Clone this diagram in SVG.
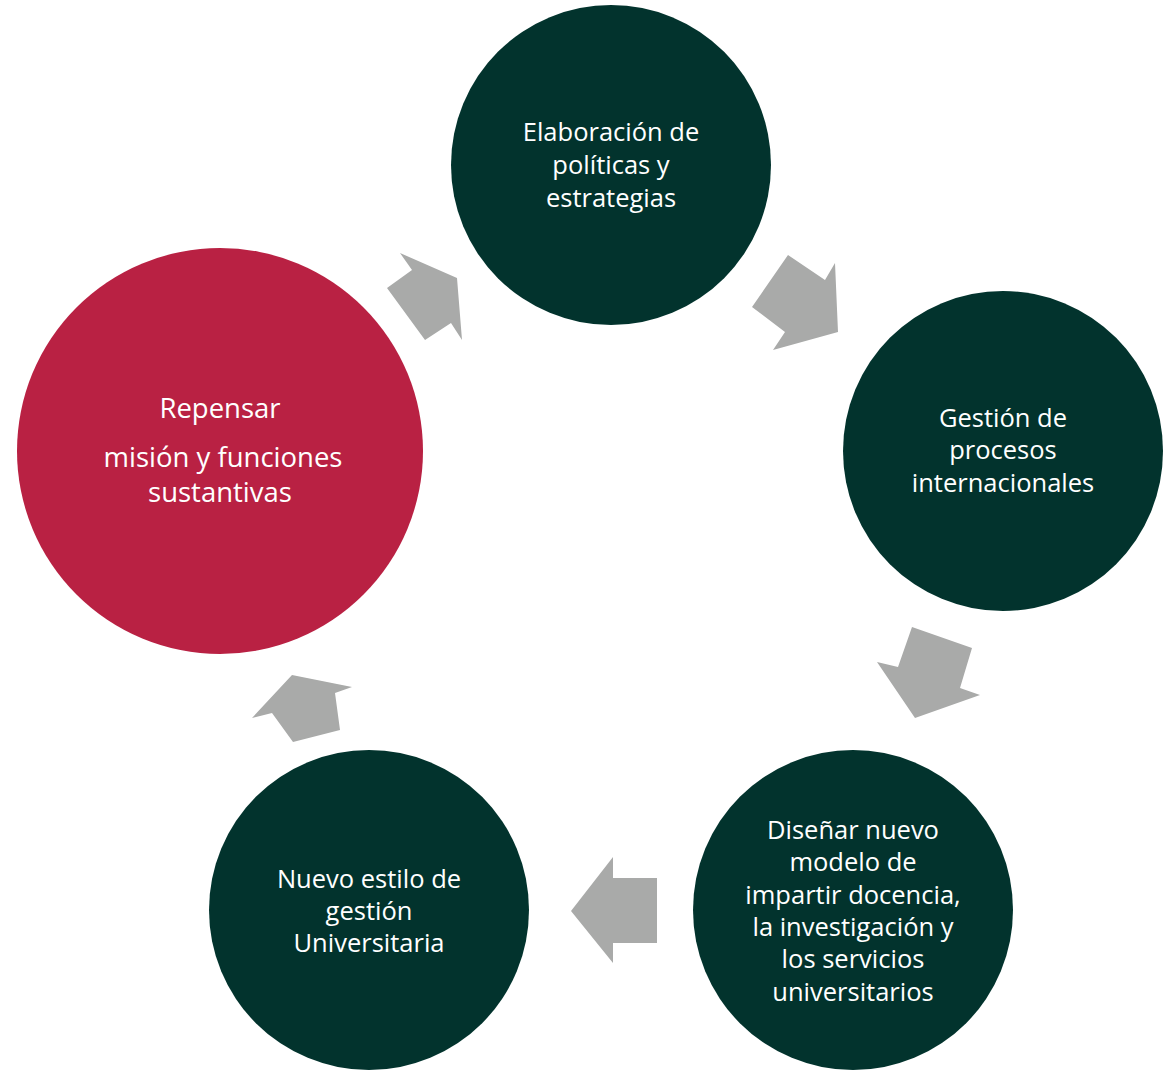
<svg xmlns="http://www.w3.org/2000/svg" width="1175" height="1070" viewBox="0 0 1175 1070">
<style>
.dk{fill:#02332D}
.rd{fill:#B92143}
.ar{fill:#A9AAA9}
text{font-family:"Open Sans","Liberation Sans",sans-serif;font-size:25.5px;fill:#ffffff;text-anchor:middle}
.big{font-size:27.5px}
</style>
<rect width="1175" height="1070" fill="#ffffff"/>
<g id="connectors">
<polygon class="ar" points="400,253 412,270 387,288 425,340 451,323 462,340 457,278"/>
<polygon class="ar" points="788,255 825,280 835,263 838,332 773,350 785,332 752,307"/>
<polygon class="ar" points="912,627 972,648 960,688 980,695 915,718 877,662 898,667"/>
<polygon class="ar" points="571,911 613,857 613,878 657,878 657,943 613,943 613,963"/>
<polygon class="ar" points="292,675 352,687 335,693 340,730 293,742 272,713 252,718"/>
</g>
<g id="node-elaboracion">
<circle class="dk" cx="611" cy="165" r="160"/>
<text x="611" y="141">Elaboración de</text>
<text x="611" y="174">políticas y</text>
<text x="611" y="207">estrategias</text>
</g>
<g id="node-gestion">
<circle class="dk" cx="1003" cy="451" r="160"/>
<text x="1003" y="427">Gestión de</text>
<text x="1003" y="459">procesos</text>
<text x="1003" y="492">internacionales</text>
</g>
<g id="node-disenar">
<circle class="dk" cx="853" cy="910" r="160"/>
<text x="853" y="839">Diseñar nuevo</text>
<text x="853" y="871">modelo de</text>
<text x="853" y="904">impartir docencia,</text>
<text x="853" y="936">la investigación y</text>
<text x="853" y="968">los servicios</text>
<text x="853" y="1001">universitarios</text>
</g>
<g id="node-nuevo">
<circle class="dk" cx="369" cy="910" r="160"/>
<text x="369" y="888">Nuevo estilo de</text>
<text x="369" y="920">gestión</text>
<text x="369" y="952">Universitaria</text>
</g>
<g id="node-repensar">
<circle class="rd" cx="220" cy="451" r="203"/>
<text class="big" x="220" y="418">Repensar</text>
<text class="big" x="223" y="467">misión y funciones</text>
<text class="big" x="220" y="502">sustantivas</text>
</g>
</svg>
